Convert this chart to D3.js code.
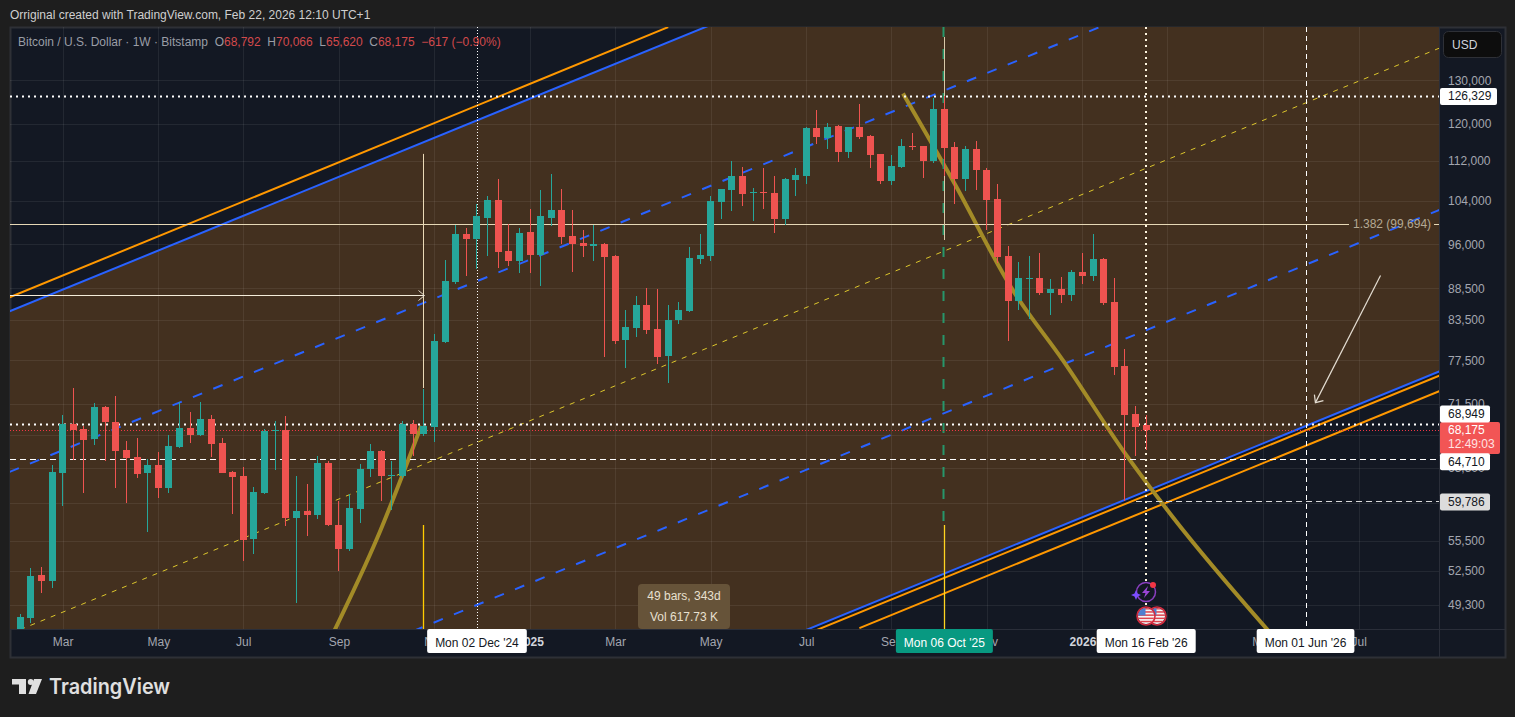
<!DOCTYPE html>
<html lang="en">
<head>
<meta charset="utf-8">
<title>BTCUSD 1W</title>
<script src="https://d3js.org/d3.v7.min.js"></script>
<style>
    body { margin: 0; background: #1e1e1e; overflow: hidden; }
    svg text { font-family: "Liberation Sans", Arial, sans-serif; font-size: 12px; }
</style>
</head>
<body>
<script>
// weekly bars, first bar is Mon 05 Feb 2024, last is Mon 16 Feb 2026
const firstBar = new Date(Date.UTC(2024, 1, 5));
const opens = [42950,48150,52130,51560,62960,68930,68300,67040,71130,69190,
    65690,64850,62960,63900,61230,66060,68420,67540,69560,66550,
    63070,62610,55720,60670,68040,68170,57930,58680,58250,64130,
    57190,54700,58900,63420,65570,62610,62610,68930,67660,68550,
    80220,89630,97960,96880,100900,104310,94930,93190,98320,94220,
    100900,102400,97590,96340,95810,96160,94050,80520,82320,85900,
    82170,78160,83550,84950,93530,94050,103740,106070,108850,105480,
    105680,105480,100710,108050,108850,118950,116770,119390,113790,119170,
    117200,113370,107850,110670,115050,115050,111910,123210,114840,108250,
    114420,110260,104500,94050,86540,90130,90300,87830,88480,87500,
    91310,90640,93530,86380,76750,70220,68792];
const highs = [48500,52810,52900,63900,70090,73680,68670,71660,71200,72590,
    66800,67160,64610,65450,67540,71790,70480,71790,70090,67160,
    63190,63660,61340,68300,69310,69960,62610,61690,64970,64370,
    59780,60560,64010,66430,65700,64370,69310,69440,73540,81420,
    93360,99600,98870,103540,104900,108250,99780,98870,102590,106070,
    109250,106260,102400,98680,99420,96340,94220,85110,87340,88640,
    88480,85900,86380,95630,97780,104900,106450,111910,110670,106650,
    110470,108850,108450,110470,119170,122980,120060,119610,119250,124350,
    117430,113500,113160,116560,117860,115260,125740,126330,115920,115260,
    116130,110470,107250,95810,93010,94050,94570,90130,90470,91650,
    94570,97780,93700,90300,79190,71260,70066];
const lows = [42400,47700,50430,50890,59230,64490,60670,66300,64370,61230,
    59560,62380,56450,60100,60670,65940,66550,67400,64850,62900,
    58360,53500,54200,60560,63310,57080,49500,56030,57820,57100,
    52520,54500,57400,62490,59780,58790,62380,64970,67410,66670,
    80070,89300,90640,91820,94050,91990,92330,91140,91140,88970,
    99240,95990,91310,93880,93190,78020,79920,76450,80960,81410,
    77020,74360,82930,84800,92670,93190,100530,102030,102980,100340,
    102590,98140,99600,104900,107250,115490,114420,111700,112530,116560,
    110470,107250,107050,110470,114210,108450,111500,109000,103360,105870,
    106070,98680,92840,80370,85110,83700,87500,84320,86220,86540,
    89150,89800,85900,75470,59790,64970,65620];
const closes = [48230,52030,51560,63070,68930,68170,66920,71130,69190,65570,
    64730,62840,63900,61230,66180,68420,67540,69560,66430,62960,
    62490,55620,60780,68040,68170,57930,58680,58250,64130,57190,
    54700,59010,63420,65570,62610,62730,68930,67660,68670,80370,
    89800,97780,96880,101090,104310,94750,93190,98140,94220,101090,
    102400,97400,96160,95810,96160,93880,80370,82470,85900,82020,
    78020,83550,85110,93700,94220,103930,106260,108850,105290,105680,
    105480,100710,108250,109050,118950,116980,119170,113790,119170,116980,
    113160,107850,110880,115050,114840,111910,123210,114630,108250,114420,
    110060,104310,93880,86540,90300,90300,87830,88480,87500,91310,
    90640,93530,86220,76590,70090,68550,68175];

const priceTicks = [130000,120000,112000,104000,96000,88500,83500,77500,71500,67500,63500,59500,55500,52500,49300];
const timeTicks = ["2024-03-04","2024-05-06","2024-07-01","2024-09-02","2024-11-04","2025-01-06","2025-03-03","2025-05-05","2025-07-07","2025-09-01","2025-11-03","2026-01-05","2026-03-02","2026-05-04","2026-07-06"];
const timeTickLabels = ["Mar","May","Jul","Sep","Nov","2025","Mar","May","Jul","Sep","Nov","2026","Mar","May","Jul"];

// trend lines as [bars from the first bar, price]
const upperBlue = [[-1,84840],[65,144040]];
const upperOrange = [[-1,87060],[61,143450]];
const midBlueA = [[-1,63050],[102,143900]];
const midBlueB = [[37,46980],[134,102660]];
const midYellow = [[0,47110],[134,138440]];
const lowerBlue = [[74,47080],[134,76160]];
const lowerOrangeA = [[75,47080],[134,75570]];
const lowerOrangeB = [[79,47240],[134,73440]];
const goldUp = [[29.47,46810],[33.62,55817],[37.76,68670]];
const goldDown = [[83.1,126910],[87.8,108046],[93.47,88154],[98.18,77448],[104.03,65210],[108.55,57930],[117.69,46810]];
const brownZone = [[-1,84840],[65,144040],[134,144040],[134,76160],[74,47080],[-1,47080]];
const slantArrow = [[128.06,90630],[121.93,71660]];

const fibPrice = 99694, arrowPrice = 87400;
const athLevel = 126329, levelA = 68949, lastPrice = 68175, levelB = 64600, levelC = 59700;
const dateDec = "2024-12-02", dateOct = "2025-10-06", dateFeb = "2026-02-16", dateJun = "2026-06-01";

const W = 1515, H = 717;
const plot = {left: 10, right: 1440, top: 27, bottom: 629};

const svg = d3.select("body").append("svg").attr("width", W).attr("height", H).style("display", "block");

const weekMs = 7 * 864e5;
const barDate = k => new Date(+firstBar + k * weekMs);
const utc = s => new Date(s + "T00:00:00Z");

let x = d3.scaleTime().domain([barDate(0), barDate(106)]).range([20.2, 1146.2]);
let y = d3.scaleLog().domain([130000, 49300]).range([80.4, 605]);

const line = d3.line().x(d => x(barDate(d[0]))).y(d => y(d[1]));

svg.append("defs").append("clipPath").attr("id", "plotClip")
    .append("rect").attr("x", plot.left).attr("y", plot.top)
    .attr("width", plot.right - plot.left).attr("height", plot.bottom - plot.top);

// frame and pane
svg.append("rect").attr("x", 10.5).attr("y", 27.5).attr("width", 1495).attr("height", 630)
    .attr("fill", "#131823").attr("stroke", "#2e3036").attr("stroke-width", 2);

const pane = svg.append("g").attr("clip-path", "url(#plotClip)");

pane.append("path").attr("d", line(brownZone) + "Z").attr("fill", "#43301f");

// grid
pane.selectAll(".hgrid").data(priceTicks).enter().append("line").attr("class", "hgrid")
    .attr("x1", plot.left).attr("x2", plot.right)
    .attr("y1", d => Math.round(y(d)) + 0.5).attr("y2", d => Math.round(y(d)) + 0.5)
    .attr("stroke", "rgba(255,255,255,0.07)");
pane.selectAll(".vgrid").data(timeTicks).enter().append("line").attr("class", "vgrid")
    .attr("y1", plot.top).attr("y2", plot.bottom)
    .attr("x1", d => Math.round(x(utc(d))) + 0.5).attr("x2", d => Math.round(x(utc(d))) + 0.5)
    .attr("stroke", "rgba(255,255,255,0.07)");

function trend(pts, color, width, dash) {
    return pane.append("path").attr("d", line(pts)).attr("fill", "none")
        .attr("stroke", color).attr("stroke-width", width).attr("stroke-dasharray", dash || null);
}

// vertical markers
function vline(date, y1, y2, color, width, dash, dx) {
    let px = Math.round(x(utc(date))) + (dx || 0);
    pane.append("line").attr("x1", px).attr("x2", px).attr("y1", y1).attr("y2", y2)
        .attr("stroke", color).attr("stroke-width", width).attr("stroke-dasharray", dash || null);
}
function hline(price, x1, x2, color, width, dash) {
    let py = Math.round(y(price)) + 0.5;
    pane.append("line").attr("x1", x1).attr("x2", x2).attr("y1", py).attr("y2", py)
        .attr("stroke", color).attr("stroke-width", width).attr("stroke-dasharray", dash || null);
}

trend(upperOrange, "#ff9800", 2);
trend(upperBlue, "#2962ff", 2);
trend(midBlueA, "#2962ff", 2, "10 12");
trend(midBlueB, "#2962ff", 2, "10 12");
trend(midYellow, "#dcc62c", 1, "5 6");
trend(lowerBlue, "#2962ff", 2);
trend(lowerOrangeA, "#ff9800", 2);
trend(lowerOrangeB, "#ff9800", 2);
trend(goldUp, "#a38b27", 4).attr("d", line.curve(d3.curveMonotoneX)(goldUp));
trend(goldDown, "#a38b27", 4).attr("d", line(goldDown));
line.curve(d3.curveLinear);

// fib level with its label
hline(fibPrice, plot.left, 1349, "#e6d8b6", 1);
pane.append("text").attr("x", 1353).attr("y", y(fibPrice) + 4).attr("fill", "#b4a994").text("1.382 (99,694)");
hline(fibPrice, 1434, plot.right, "#e6d8b6", 1);

// measure lines
vline("2024-11-04", y(126329) + 58, 388, "#ead9b6", 1, null, -10.5);
vline("2024-11-04", 525, plot.bottom, "#ffcc00", 1.3, null, -10.5);
vline(dateOct, 27, 525, "#27966a", 2, "10 12", -0.5);
vline(dateOct, 37, 240, "#d8c8a8", 1, null, 0.5);
vline(dateOct, 525, plot.bottom, "#ffd420", 1.3, null, 0.5);

// horizontal arrow into Nov '24
hline(arrowPrice, plot.left, 424, "#f4ecda", 1);
let arrowTipX = 424.5, arrowTipY = Math.round(y(arrowPrice)) + 0.5;
pane.append("path").attr("d", `M${arrowTipX - 6},${arrowTipY - 5}L${arrowTipX},${arrowTipY}L${arrowTipX - 6},${arrowTipY + 5}`)
    .attr("fill", "none").attr("stroke", "#e8dfce").attr("stroke-width", 1);

// slanted arrow
trend(slantArrow, "#e4ddd2", 1.2);
let tipX = x(barDate(slantArrow[1][0])), tipY = y(slantArrow[1][1]);
pane.append("path").attr("d", `M${tipX - 1},${tipY - 8}L${tipX},${tipY}L${tipX + 8},${tipY - 2}`)
    .attr("fill", "none").attr("stroke", "#e4ddd2").attr("stroke-width", 1.2);

// level and crosshair style lines
hline(athLevel, plot.left, plot.right, "#fff", 2, "2 4");
hline(levelA, plot.left, plot.right, "#fff", 2, "2 4");
hline(lastPrice, plot.left, plot.right, "#f23645", 1, "1 2");
hline(levelB, plot.left, plot.right, "#fff", 1, "6 4");
hline(levelC, 1136, plot.right, "#d8d8d8", 1, "6 4");
vline(dateDec, plot.top, plot.bottom, "#fff", 1, "1 2", 0.5);
vline(dateFeb, plot.top, 620, "#fff6e0", 2, "2 4");
vline(dateJun, plot.top, plot.bottom, "#fff", 1, "5 4", 0.5);

// candles
let bars = opens.map((o, i) => ({i: i, o: o, h: highs[i], l: lows[i], c: closes[i]}));
const barColor = d => d.c >= d.o ? "#26a69a" : "#ef5350";

pane.selectAll(".wick").data(bars).enter().append("rect").attr("class", "wick")
    .attr("x", d => Math.round(x(barDate(d.i)) - 3.5) + 3)
    .attr("width", 1)
    .attr("y", d => y(d.h))
    .attr("height", d => y(d.l) - y(d.h))
    .attr("fill", barColor)
    .attr("shape-rendering", "crispEdges");
pane.selectAll(".body").data(bars).enter().append("rect").attr("class", "body")
    .attr("x", d => Math.round(x(barDate(d.i)) - 3.5))
    .attr("width", 7)
    .attr("y", d => y(Math.max(d.o, d.c)))
    .attr("height", d => Math.max(1, Math.abs(y(d.o) - y(d.c))))
    .attr("fill", barColor)
    .attr("shape-rendering", "crispEdges");

// axes
svg.append("line").attr("x1", plot.right - 0.5).attr("x2", plot.right - 0.5).attr("y1", 27).attr("y2", 657).attr("stroke", "#2a2e39");
svg.append("line").attr("x1", 10).attr("x2", 1505).attr("y1", plot.bottom + 0.5).attr("y2", plot.bottom + 0.5).attr("stroke", "#2a2e39");

const yAxis = d3.axisRight(y).tickValues(priceTicks).tickFormat(d3.format(",")).tickSize(0).tickPadding(8);
const yAxisG = svg.append("g").attr("transform", `translate(${plot.right},0)`).call(yAxis);
yAxisG.select(".domain").remove();
yAxisG.selectAll("text").attr("fill", "#a3a6af").style("font-size", "12px");

const xAxis = d3.axisBottom(x).tickValues(timeTicks.map(utc))
    .tickFormat((d, i) => timeTickLabels[i]).tickSize(0).tickPadding(0);
const xAxisG = svg.append("g").attr("transform", `translate(0,${plot.bottom + 8})`).call(xAxis);
xAxisG.select(".domain").remove();
xAxisG.selectAll("text").attr("fill", "#a3a6af").style("font-size", "12px");
xAxisG.selectAll("text").filter((d, i) => /^20/.test(timeTickLabels[i]))
    .attr("fill", "#d1d4dc").style("font-weight", "bold");

// title lines
svg.append("text").attr("x", 10).attr("y", 19).attr("fill", "#cfcfcf")
    .text("Orriginal created with TradingView.com, Feb 22, 2026 12:10 UTC+1");

const legendGray = "#9a9da6", legendRed = "#d44a4c";
const legend = svg.append("text").attr("x", 18).attr("y", 46).attr("fill", legendGray);
legend.append("tspan").text("Bitcoin / U.S. Dollar · 1W · Bitstamp");
[["O", "68,792"], ["H", "70,066"], ["L", "65,620"], ["C", "68,175"]].forEach(function(p) {
    legend.append("tspan").attr("dx", 6.6).text(p[0]);
    legend.append("tspan").attr("fill", legendRed).text(p[1]);
});
legend.append("tspan").attr("dx", 6.6).attr("fill", legendRed).text("−617 (−0.90%)");

// USD button
svg.append("rect").attr("x", 1443.5).attr("y", 31.5).attr("width", 58).attr("height", 26).attr("rx", 5)
    .attr("fill", "#0d0d0d").attr("stroke", "#2e3036");
svg.append("text").attr("x", 1452).attr("y", 49).attr("fill", "#d1d4dc").text("USD");

// price tags, the near ones get pushed apart like on the real axis
function priceTag(price, label, fill, color, width, shift) {
    let cy = y(price) + shift;
    svg.append("rect").attr("x", plot.right).attr("y", cy - 8.5).attr("width", width).attr("height", 17)
        .attr("rx", 2).attr("fill", fill);
    svg.append("text").attr("x", plot.right + 8).attr("y", cy + 4).attr("fill", color).text(label);
}
svg.append("rect").attr("x", plot.right).attr("y", 422).attr("width", 60).attr("height", 32).attr("rx", 2).attr("fill", "#f25555");
svg.append("text").attr("x", 1448).attr("y", 434).attr("fill", "#fff").text("68,175");
svg.append("text").attr("x", 1448).attr("y", 448).attr("fill", "#ffe3e3").text("12:49:03");
priceTag(athLevel, "126,329", "#fff", "#131722", 57, 0.5);
priceTag(levelA, "68,949", "#fff", "#131722", 50, -9.5);
priceTag(levelB, "64,710", "#fff", "#131722", 50, 3);
priceTag(levelC, "59,786", "#dcdcdc", "#131722", 50, 0.5);

// bars range tooltip
svg.append("rect").attr("x", 638).attr("y", 584).attr("width", 92).attr("height", 45).attr("rx", 4).attr("fill", "#665339");
svg.append("text").attr("x", 684).attr("y", 600).attr("text-anchor", "middle").attr("fill", "#e8e0d0").text("49 bars, 343d");
svg.append("text").attr("x", 684).attr("y", 621).attr("text-anchor", "middle").attr("fill", "#e8e0d0").text("Vol 617.73 K");

// date tags on the time axis
function timeTag(date, label, fill, color) {
    let cx = x(utc(date));
    let g = svg.append("g");
    let rect = g.append("rect").attr("y", plot.bottom).attr("height", 24).attr("rx", 2).attr("fill", fill);
    let t = g.append("text").attr("x", cx).attr("y", plot.bottom + 18).attr("text-anchor", "middle").attr("fill", color).text(label);
    let w = t.node().getComputedTextLength() + 16;
    rect.attr("x", cx - w / 2).attr("width", w);
}
timeTag(dateDec, "Mon 02 Dec '24", "#fff", "#131722");
timeTag(dateOct, "Mon 06 Oct '25", "#089981", "#fff");
timeTag(dateFeb, "Mon 16 Feb '26", "#fff", "#131722");
timeTag(dateJun, "Mon 01 Jun '26", "#fff", "#131722");

// event icons above the Feb '26 date tag
function usFlag(cx, cy, id) {
    let g = svg.append("g");
    g.append("clipPath").attr("id", id).append("circle").attr("cx", cx).attr("cy", cy).attr("r", 8);
    let f = g.append("g").attr("clip-path", `url(#${id})`);
    f.append("rect").attr("x", cx - 9).attr("y", cy - 9).attr("width", 18).attr("height", 18).attr("fill", "#f6f6f6");
    d3.range(0, 5).forEach(function(n) {
        f.append("rect").attr("x", cx - 9).attr("y", cy - 8 + n * 3.2).attr("width", 18).attr("height", 1.5).attr("fill", "#e0434e");
    });
    f.append("rect").attr("x", cx - 9).attr("y", cy - 9).attr("width", 8.5).attr("height", 8.5).attr("fill", "#4f7fd0");
    g.append("circle").attr("cx", cx).attr("cy", cy).attr("r", 9).attr("fill", "none").attr("stroke", "#d42b3f").attr("stroke-width", 1.6);
}
let eventX = Math.round(x(utc(dateFeb)));
usFlag(eventX + 11, 616, "flagB");
usFlag(eventX, 616, "flagA");

const bolt = svg.append("g").attr("transform", `translate(${eventX},592)`);
bolt.append("circle").attr("r", 9.5).attr("fill", "#131823").attr("stroke", "#8a3fc0").attr("stroke-width", 1.5);
bolt.append("path").attr("d", "M2,-6L-4,1L-0.5,1L-2,6L4,-1L0.5,-1Z").attr("fill", "#9b45d6");
bolt.append("circle").attr("cx", 7).attr("cy", -7).attr("r", 3).attr("fill", "#f23645");
bolt.append("path").attr("d", "M-10,-2L-8.5,1.5L-5,3L-8.5,4.5L-10,8L-11.5,4.5L-15,3L-11.5,1.5Z").attr("fill", "#7c4dff");

// logo
svg.append("path").attr("d", "M12,679H26V694H19V684.5H12Z M34,679H42L36,694H28.5Z").attr("fill", "#e0e0e0");
svg.append("circle").attr("cx", 30.7).attr("cy", 682).attr("r", 2.9).attr("fill", "#e0e0e0");
svg.append("text").attr("x", 49).attr("y", 694).attr("fill", "#e0e0e0")
    .attr("textLength", 121).attr("lengthAdjust", "spacingAndGlyphs")
    .style("font-family", "Inter, sans-serif").style("font-size", "21px").style("font-weight", 600)
    .text("TradingView");
</script>
</body>
</html>
